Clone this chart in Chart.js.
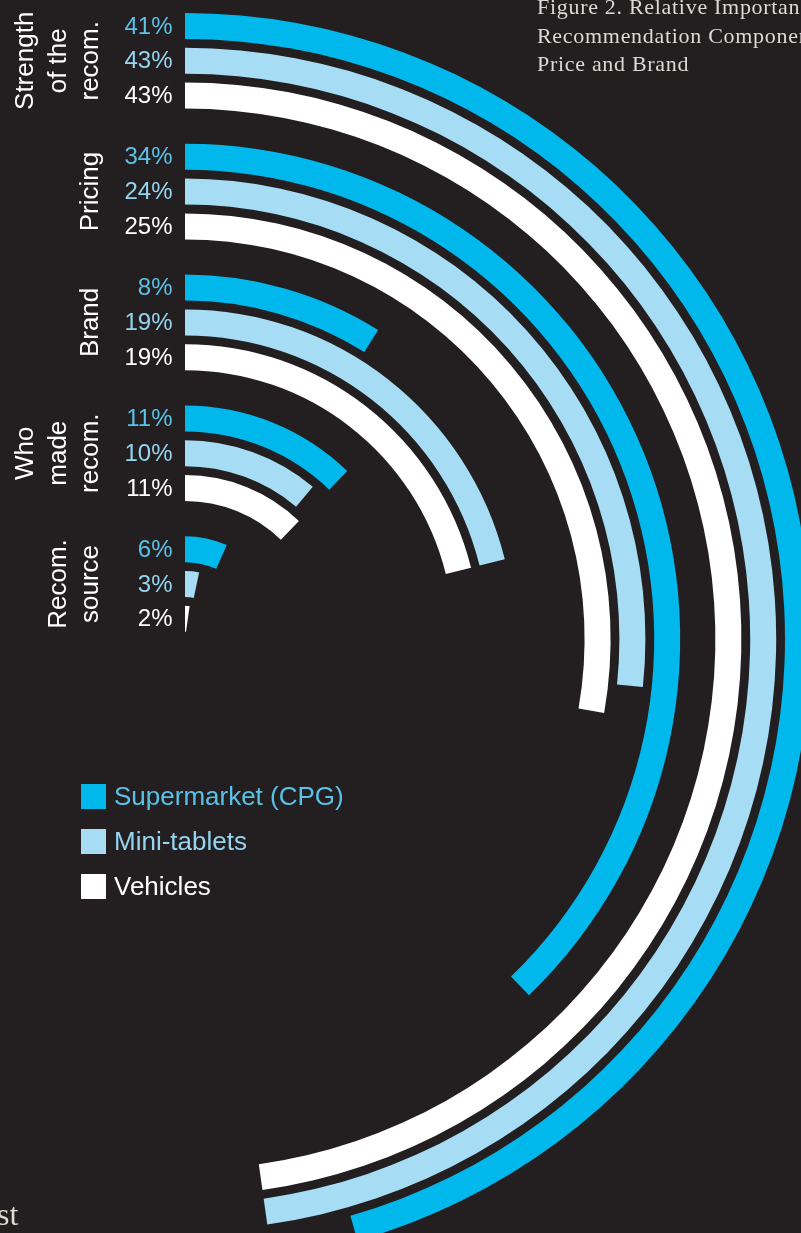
<!DOCTYPE html>
<html>
<head>
<meta charset="utf-8">
<script src="https://cdn.jsdelivr.net/npm/chart.js@4.4.0/dist/chart.umd.min.js"></script>
<style>
  html, body { margin: 0; padding: 0; background: #231f20; }
  #page { position: relative; width: 801px; height: 1233px; overflow: hidden; background: #231f20; }
  #rings { position: absolute; left: -441px; top: 13px; }
  #caption { position: absolute; left: 537px; top: -7px; font-family: "Liberation Serif", serif; font-size: 22px; line-height: 28.5px; letter-spacing: 0.7px; color: #dedad6; white-space: nowrap; }
  #footer { position: absolute; left: -3px; top: 1196px; font-family: "Liberation Serif", serif; font-size: 32px; color: #dedad6; }
  #legend { position: absolute; left: 81px; top: 784px; font-family: "Liberation Sans", Arial, sans-serif; font-size: 26px; }
  .row { display: flex; align-items: center; height: 25px; margin-bottom: 20px; }
  .swatch { width: 25px; height: 25px; margin-right: 8px; }
</style>
</head>
<body>
<div id="page">
  <canvas id="rings" width="1252" height="1252"></canvas>
  <div id="caption">Figure 2. Relative Importance of<br>Recommendation Components,<br>Price and Brand</div>
  <div id="footer">st</div>
  <div id="legend"></div>
</div>
<script>
const categories = [["Strength", "of the", "recom."], ["Pricing"], ["Brand"], ["Who", "made", "recom."], ["Recom.", "source"]];
const seriesNames = ["Supermarket (CPG)", "Mini-tablets", "Vehicles"];
const supermarket = [41, 34, 8, 11, 6];
const miniTablets = [43, 24, 19, 10, 3];
const vehicles = [43, 25, 19, 11, 2];
const fullTurn = 90; // percent covered by one whole circle

const barColors = ["#00b8ec", "#a6ddf5", "#ffffff"];
const textColors = ["#58c2e8", "#95d5f1", "#ffffff"];
const series = [supermarket, miniTablets, vehicles];

// rings run outside-in: each category gets its three rings, then a wider gap
const datasets = [];
const ringIndex = [];
categories.forEach((cat, c) => {
    ringIndex.push([]);
    series.forEach((values, s) => {
        ringIndex[c].push(datasets.length);
        datasets.push({
            label: seriesNames[s],
            data: [values[c], fullTurn - values[c]],
            backgroundColor: [barColors[s], "rgba(0,0,0,0)"],
            borderWidth: 0,
            weight: 26,
            series: s
        });
        if (s < series.length - 1) {
            datasets.push({ data: [], weight: 8.8 });
        }
    });
    if (c < categories.length - 1) {
        datasets.push({ data: [], weight: 35.2 });
    }
});

const ringLabels = {
    id: "ringLabels",
    afterDatasetsDraw(chart) {
        const ctx = chart.ctx;
        ctx.save();
        ctx.font = '24px "Liberation Sans", Arial, sans-serif';
        ctx.textAlign = "right";
        ctx.textBaseline = "middle";
        chart.data.datasets.forEach((ds, i) => {
            if (ds.series === undefined) return;
            const arc = chart.getDatasetMeta(i).data[0];
            const mid = (arc.innerRadius + arc.outerRadius) / 2;
            ctx.fillStyle = textColors[ds.series];
            ctx.fillText(ds.data[0] + "%", arc.x - 12.5, arc.y - mid + 1);
        });

        ctx.font = '26px "Liberation Sans", Arial, sans-serif';
        ctx.fillStyle = "#ffffff";
        ctx.textAlign = "center";
        ctx.textBaseline = "alphabetic";
        categories.forEach((lines, c) => {
            const first = chart.getDatasetMeta(ringIndex[c][0]).data[0];
            const last = chart.getDatasetMeta(ringIndex[c][2]).data[0];
            const centerY = first.y - (first.outerRadius + last.innerRadius) / 2;
            lines.forEach((line, k) => {
                const bx = first.x - 87 - (lines.length - 1 - k) * 32.5;
                ctx.save();
                ctx.translate(bx, centerY);
                ctx.rotate(-Math.PI / 2);
                ctx.fillText(line, 0, 0);
                ctx.restore();
            });
        });
        ctx.restore();
    }
};

new Chart(document.getElementById("rings"), {
    type: "doughnut",
    data: { labels: ["value", "rest"], datasets: datasets },
    options: {
        responsive: false,
        animation: false,
        devicePixelRatio: 1,
        cutout: 7.2,
        rotation: 0,
        circumference: 360,
        spacing: 0,
        hoverOffset: 0,
        layout: { padding: 0 },
        plugins: { legend: { display: false }, tooltip: { enabled: false } }
    },
    plugins: [ringLabels]
});

const legend = document.getElementById("legend");
seriesNames.forEach((name, s) => {
    const row = document.createElement("div");
    row.className = "row";
    const box = document.createElement("div");
    box.className = "swatch";
    box.style.background = barColors[s];
    const text = document.createElement("span");
    text.textContent = name;
    text.style.color = textColors[s];
    row.appendChild(box);
    row.appendChild(text);
    legend.appendChild(row);
});
</script>
</body>
</html>
